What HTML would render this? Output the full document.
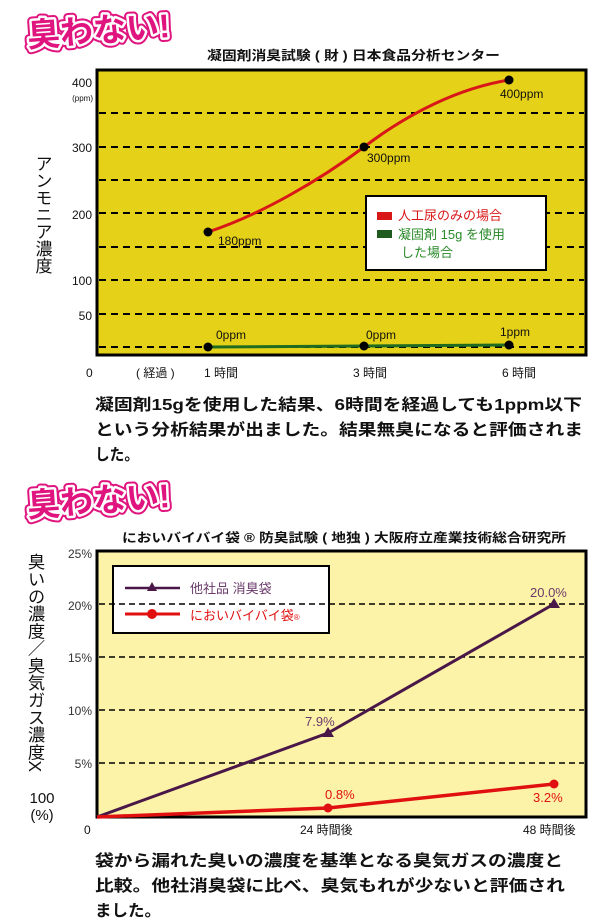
<!DOCTYPE html>
<html><head><meta charset="utf-8"><style>
html,body{margin:0;padding:0;background:#fff;}
svg{display:block;}
text{font-family:"Liberation Sans","Noto Sans CJK JP",sans-serif;}
.b{font-weight:bold;}
</style></head><body>
<svg width="600" height="924" viewBox="0 0 600 924" xmlns="http://www.w3.org/2000/svg">
<!-- Logo 1 -->
<g transform="translate(28,47) rotate(-4)">
<text x="0" y="0" font-size="33" class="b" fill="#fff" stroke="#e0147e" stroke-width="9" stroke-linejoin="round">臭わない!</text>
<text x="0" y="0" font-size="33" class="b" fill="#fff" stroke="#fff" stroke-width="5" stroke-linejoin="round">臭わない!</text>
<text x="0" y="0" font-size="33" class="b" fill="#e0147e">臭わない!</text>
</g>
<text x="207" y="60" font-size="13" class="b" fill="#111" textLength="293" lengthAdjust="spacingAndGlyphs">凝固剤消臭試験 ( 財 ) 日本食品分析センター</text>
<!-- Chart 1 -->
<rect x="97" y="70" width="489" height="285" fill="#e5d117" stroke="#000" stroke-width="3"/>
<g stroke="#000" stroke-width="2" stroke-dasharray="7,5">
<line x1="99" y1="113" x2="584" y2="113"/><line x1="99" y1="147" x2="584" y2="147"/>
<line x1="99" y1="180" x2="584" y2="180"/><line x1="99" y1="213" x2="584" y2="213"/>
<line x1="99" y1="247" x2="584" y2="247"/><line x1="99" y1="280" x2="584" y2="280"/>
<line x1="99" y1="314" x2="584" y2="314"/><line x1="99" y1="347" x2="584" y2="347"/>
</g>
<path d="M208,232 C260,215 320,180 364,147 C410,112 460,88 509,80" fill="none" stroke="#d81818" stroke-width="3"/>
<polyline points="208,347 364,346 509,345" fill="none" stroke="#1f6b1f" stroke-width="3"/>
<g fill="#000"><circle cx="208" cy="232" r="4.5"/><circle cx="364" cy="147" r="4.5"/><circle cx="509" cy="80" r="4.5"/>
<circle cx="208" cy="347" r="4.5"/><circle cx="364" cy="346" r="4.5"/><circle cx="509" cy="345" r="4.5"/></g>
<g font-size="12" fill="#111">
<text x="218" y="245">180ppm</text><text x="367" y="162">300ppm</text><text x="500" y="98">400ppm</text>
<text x="216" y="339">0ppm</text><text x="366" y="339">0ppm</text><text x="500" y="336">1ppm</text>
</g>
<rect x="366" y="196" width="180" height="74" fill="#fff" stroke="#000" stroke-width="2"/>
<rect x="377" y="212" width="15" height="8" fill="#d81818"/>
<rect x="377" y="230" width="15" height="8" fill="#1f5a1f"/>
<text x="398" y="220" font-size="13" fill="#d81818">人工尿のみの場合</text>
<text x="398" y="239" font-size="13" fill="#2a8a2a">凝固剤 15g を使用</text>
<text x="401" y="257" font-size="13" fill="#2a8a2a">した場合</text>
<g font-size="12" fill="#111" text-anchor="end">
<text x="92" y="87">400</text><text x="92" y="152">300</text><text x="92" y="219">200</text>
<text x="92" y="285">100</text><text x="92" y="320">50</text>
</g>
<text x="93" y="101" font-size="8" fill="#111" text-anchor="end">(ppm)</text>
<text font-size="17" fill="#111" x="42" y="155" style="writing-mode:vertical-rl">アンモニア濃度</text>
<g font-size="12" fill="#111">
<text x="86" y="377">0</text><text x="136" y="377">( 経過 )</text><text x="204" y="377">1 時間</text>
<text x="353" y="377">3 時間</text><text x="502" y="377">6 時間</text>
</g>
<g font-size="16" class="b" fill="#111">
<text x="95" y="410" textLength="487" lengthAdjust="spacingAndGlyphs">凝固剤15gを使用した結果、6時間を経過しても1ppm以下</text>
<text x="95" y="435" textLength="488" lengthAdjust="spacingAndGlyphs">という分析結果が出ました。結果無臭になると評価されま</text>
<text x="95" y="460" textLength="44" lengthAdjust="spacingAndGlyphs">した。</text>
</g>
<!-- Logo 2 -->
<g transform="translate(28,517) rotate(-4)">
<text x="0" y="0" font-size="33" class="b" fill="#fff" stroke="#e0147e" stroke-width="9" stroke-linejoin="round">臭わない!</text>
<text x="0" y="0" font-size="33" class="b" fill="#fff" stroke="#fff" stroke-width="5" stroke-linejoin="round">臭わない!</text>
<text x="0" y="0" font-size="33" class="b" fill="#e0147e">臭わない!</text>
</g>
<text x="122" y="542" font-size="12.5" class="b" fill="#111" textLength="444" lengthAdjust="spacingAndGlyphs">においバイバイ袋 ® 防臭試験 ( 地独 ) 大阪府立産業技術総合研究所</text>
<!-- Chart 2 -->
<rect x="97" y="551" width="489" height="266" fill="#fdf3a8" stroke="#000" stroke-width="3"/>
<rect x="113" y="566" width="216" height="67" fill="#fff" stroke="#000" stroke-width="2"/>
<g stroke="#000" stroke-width="1.6" stroke-dasharray="6,4">
<line x1="99" y1="604" x2="584" y2="604"/><line x1="99" y1="657" x2="584" y2="657"/>
<line x1="99" y1="710" x2="584" y2="710"/><line x1="99" y1="763" x2="584" y2="763"/>
</g>
<polyline points="97,817 328,733 554,604" fill="none" stroke="#4a1848" stroke-width="3"/>
<polyline points="97,817 328,808 554,784" fill="none" stroke="#e01010" stroke-width="3.5"/>
<polygon points="328,727 334,737 322,737" fill="#4a1848"/><polygon points="554,598 560,608 548,608" fill="#4a1848"/>
<circle cx="328" cy="808" r="4.5" fill="#e01010"/><circle cx="554" cy="784" r="4.5" fill="#e01010"/>
<line x1="125" y1="588" x2="180" y2="588" stroke="#4a1848" stroke-width="2.5"/>
<polygon points="152,582 157,591 147,591" fill="#4a1848"/>
<line x1="125" y1="614" x2="180" y2="614" stroke="#e01010" stroke-width="3"/>
<circle cx="152" cy="614" r="5" fill="#e01010"/>
<text x="190" y="593" font-size="13" fill="#6a3a6a">他社品 消臭袋</text>
<text x="190" y="620" font-size="13" fill="#e01010">においバイバイ袋<tspan font-size="8">®</tspan></text>
<g font-size="13" fill="#6a3a6a"><text x="305" y="726">7.9%</text><text x="530" y="597">20.0%</text></g>
<g font-size="13" fill="#e01010"><text x="325" y="799">0.8%</text><text x="533" y="802">3.2%</text></g>
<g font-size="12" fill="#333" text-anchor="end">
<text x="92" y="558">25%</text><text x="92" y="610">20%</text><text x="92" y="662">15%</text>
<text x="92" y="715">10%</text><text x="92" y="768">5%</text>
</g>
<text x="35" y="553" font-size="17.3" fill="#111" style="writing-mode:vertical-rl">臭いの濃度／臭気ガス濃度X</text>
<text x="42" y="803" font-size="15" fill="#111" text-anchor="middle">100</text>
<text x="42" y="820" font-size="15" fill="#111" text-anchor="middle">(%)</text>
<g font-size="12" fill="#111">
<text x="84" y="834">0</text><text x="300" y="834">24 時間後</text><text x="523" y="834">48 時間後</text>
</g>
<g font-size="16" class="b" fill="#111">
<text x="95" y="866" textLength="468" lengthAdjust="spacingAndGlyphs">袋から漏れた臭いの濃度を基準となる臭気ガスの濃度と</text>
<text x="95" y="891" textLength="470" lengthAdjust="spacingAndGlyphs">比較。他社消臭袋に比べ、臭気もれが少ないと評価され</text>
<text x="95" y="916" textLength="66" lengthAdjust="spacingAndGlyphs">ました。</text>
</g>
</svg>
</body></html>
